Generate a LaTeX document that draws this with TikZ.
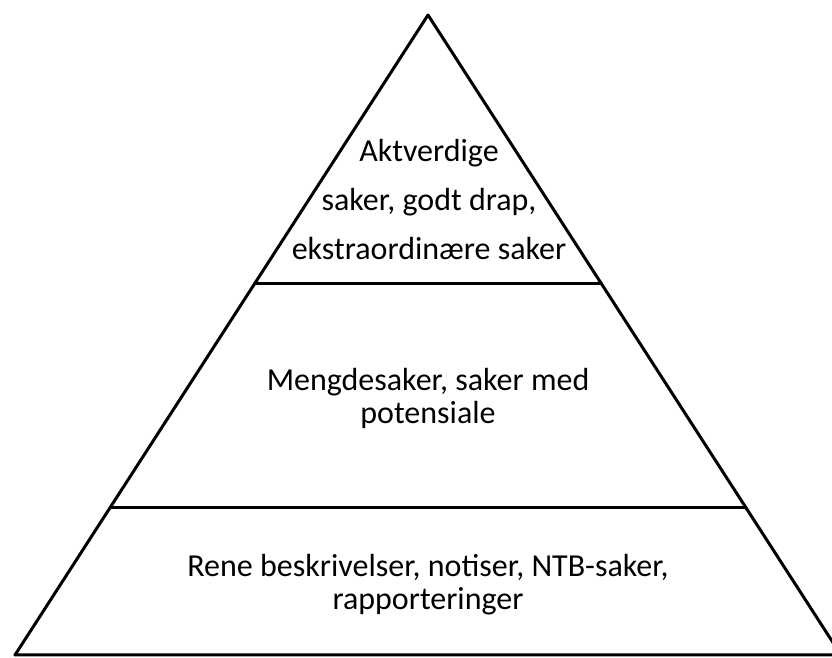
\documentclass[tikz,border=0pt]{standalone}
\usepackage{fontspec}
\setmainfont{Carlito}
\usetikzlibrary{calc}

\tikzset{
  layer/.style={line width=3pt, line join=round},
  label/.style={align=center, font=\fontsize{32}{33}\selectfont}
}

\begin{document}
\begin{tikzpicture}[x=1pt,y=1pt]
\useasboundingbox (0,0) rectangle (832,658);
\clip (0,0) rectangle (832,658);

\coordinate (apex) at (428,643);
\coordinate (bl) at (15,3);
\coordinate (br) at (841,3);

\draw [layer] (bl) -- (apex) -- (br) -- cycle;

\draw [layer] ($(apex)!0.4203!(bl)$) -- ($(apex)!0.4203!(br)$);
\draw [layer] ($(apex)!0.7703!(bl)$) -- ($(apex)!0.7703!(br)$);

\node [label, font=\fontsize{32}{49}\selectfont] (top) at (429,458) {Aktverdige\\saker, godt drap,\\ekstraordinære saker};
\node [label] (mid) at (428,260) {Mengdesaker, saker med\\potensiale};
\node [label] (bot) at (428,73) {Rene beskrivelser, notiser, NTB-saker,\\rapporteringer};

\end{tikzpicture}
\end{document}
